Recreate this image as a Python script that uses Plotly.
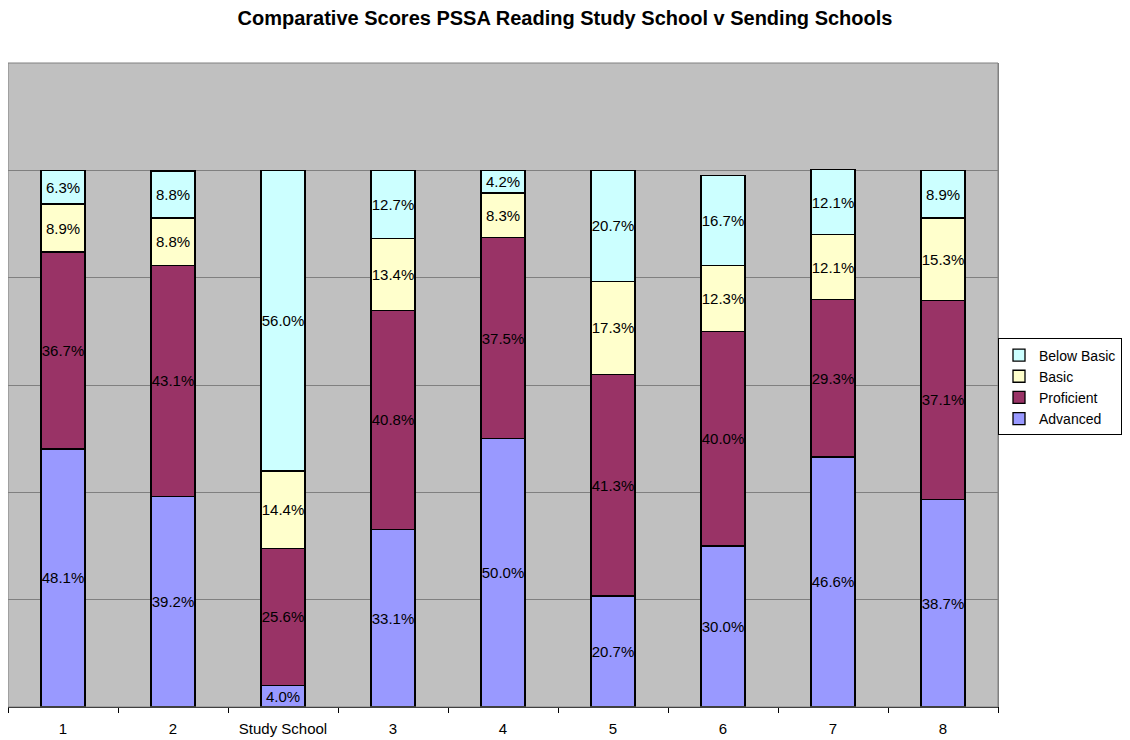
import plotly.graph_objects as go

schools = ["1", "2", "Study School", "3", "4", "5", "6", "7", "8"]

# percent of students per performance level
advanced = [48.1, 39.2, 4.0, 33.1, 50.0, 20.7, 30.0, 46.6, 38.7]
proficient = [36.7, 43.1, 25.6, 40.8, 37.5, 41.3, 40.0, 29.3, 37.1]
basic = [8.9, 8.8, 14.4, 13.4, 8.3, 17.3, 12.3, 12.1, 15.3]
below_basic = [6.3, 8.8, 56.0, 12.7, 4.2, 20.7, 16.7, 12.1, 8.9]

SERIES = [
    ("Advanced", advanced, "#9999FF"),
    ("Proficient", proficient, "#993366"),
    ("Basic", basic, "#FFFFCC"),
    ("Below Basic", below_basic, "#CCFFFF"),
]

fig = go.Figure()
for name, vals, color in SERIES:
    fig.add_trace(go.Bar(
        x=schools,
        y=[v / 100 for v in vals],
        name=name,
        text=[f"{v:.1f}%" for v in vals],
        textposition="inside",
        insidetextanchor="middle",
        textangle=0,
        insidetextfont=dict(family="Arial, Liberation Sans", size=15, color="black"),
        marker=dict(color=color, line=dict(color="black", width=1.3)),
        cliponaxis=False,
    ))

# page body adds an 8px offset, so the figure is 8px smaller than the window
fig.update_layout(
    barmode="stack",
    bargap=0.6,
    width=1122, height=732,
    margin=dict(l=0, r=132, t=55, b=33, autoexpand=False),
    uniformtext=dict(minsize=15, mode="show"),
    paper_bgcolor="white",
    plot_bgcolor="#C0C0C0",
    font=dict(family="Arial, Liberation Sans", size=15, color="black"),
    title=dict(text="<b>Comparative Scores PSSA Reading Study School v Sending Schools</b>",
               x=0.4964, xanchor="center", y=0.986, yanchor="middle",
               font=dict(size=20)),
    legend=dict(traceorder="reversed", x=1.0, xanchor="left", y=0.497, yanchor="middle",
                bgcolor="white", bordercolor="black", borderwidth=1,
                font=dict(size=14), itemwidth=30, tracegroupgap=0),
    xaxis=dict(showline=True, linecolor="black", linewidth=1, ticks="outside",
               tickson="boundaries", ticklen=5, tickcolor="black",
               ticklabelstandoff=8, showgrid=False, mirror=False),
    yaxis=dict(range=[0, 1.2], dtick=0.2, showticklabels=False, showgrid=True,
               gridcolor="#808080", gridwidth=1, zeroline=False,
               showline=True, linecolor="#808080", mirror=True),
)
fig.add_shape(type="rect", xref="paper", yref="paper", x0=0, x1=1, y0=0, y1=1,
              line=dict(color="#808080", width=1), layer="above")

fig.write_html("out.html")
